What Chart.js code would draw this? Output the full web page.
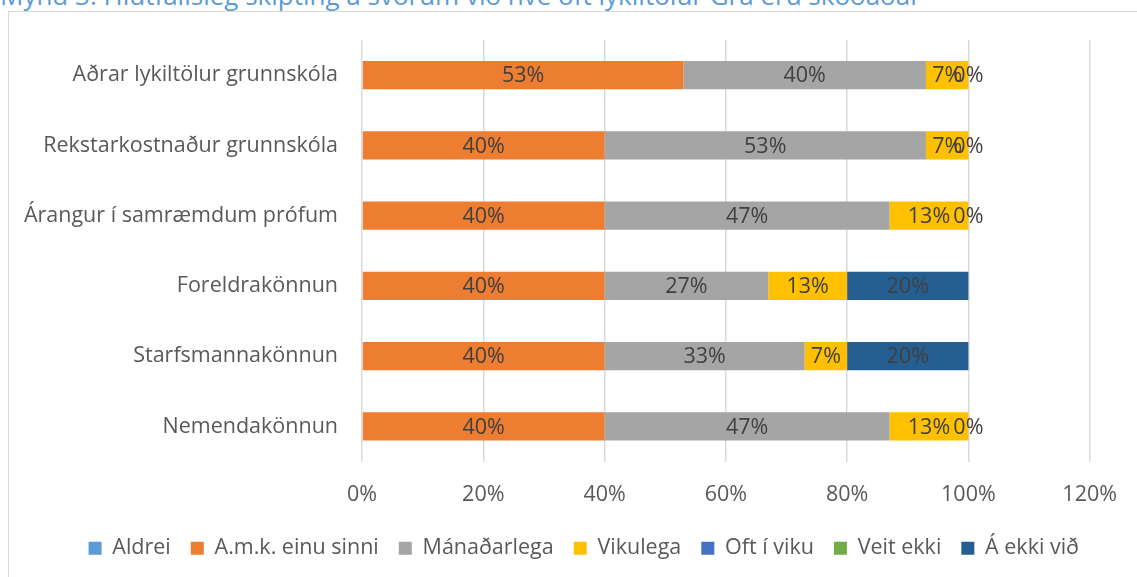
<!DOCTYPE html>
<html>
<head>
<meta charset="utf-8">
<script src="https://cdn.jsdelivr.net/npm/chart.js@4.4.1/dist/chart.umd.min.js"></script>
<style>
  html, body { margin: 0; padding: 0; background: #ffffff; overflow: hidden; }
  #wrap { position: relative; width: 1137px; height: 577px; overflow: hidden; }
  #frame { position: absolute; left: 8px; top: 11px; width: 1300px; height: 800px; border: 1px solid #d9d9d9; box-sizing: border-box; }
  #title { position: absolute; left: 0px; top: -18px; font-family: 'Open Sans', sans-serif; font-size: 26px; line-height: 26px; color: #5b9bd5; white-space: nowrap; }
  #c { position: absolute; left: 0; top: 0; }
</style>
</head>
<body>
<div id="wrap">
  <div id="frame"></div>
  <div id="title">Mynd 3. Hlutfallsleg skipting á svörum við hve oft lykiltölur Grá eru skoðaðar</div>
  <canvas id="c" width="1137" height="577"></canvas>
</div>
<script>
const categories = ['Aðrar lykiltölur grunnskóla', 'Rekstarkostnaður grunnskóla', 'Árangur í samræmdum prófum', 'Foreldrakönnun', 'Starfsmannakönnun', 'Nemendakönnun'];
const seriesNames = ['Aldrei', 'A.m.k. einu sinni', 'Mánaðarlega', 'Vikulega', 'Oft í viku', 'Veit ekki', 'Á ekki við'];
const aldrei      = [null, null, null, null, null, null];
const amkEinuSinni = [53, 40, 40, 40, 40, 40];
const manadarlega = [40, 53, 47, 27, 33, 47];
const vikulega    = [7, 7, 13, 13, 7, 13];
const oftIViku    = [null, null, null, null, null, null];
const veitEkki    = [null, null, null, null, null, null];
const aEkkiVid    = [0, 0, 0, 20, 20, 0];
const xTicks = [0, 20, 40, 60, 80, 100, 120];

const seriesValues = [aldrei, amkEinuSinni, manadarlega, vikulega, oftIViku, veitEkki, aEkkiVid];
const seriesColors = ['#5b9bd5', '#ed7d31', '#a5a5a5', '#ffc000', '#4472c4', '#70ad47', '#255e91'];

Chart.defaults.font.family = "'Open Sans', sans-serif";
Chart.defaults.font.size = 21.5;
Chart.defaults.color = '#595959';

const labelPlugin = {
  id: 'barLabels',
  afterDatasetsDraw(chart) {
    const ctx = chart.ctx;
    ctx.save();
    ctx.font = "21.5px 'Open Sans', sans-serif";
    ctx.fillStyle = '#404040';
    ctx.textAlign = 'center';
    ctx.textBaseline = 'middle';
    chart.data.datasets.forEach((ds, i) => {
      const meta = chart.getDatasetMeta(i);
      meta.data.forEach((el, j) => {
        const v = ds.data[j];
        if (v === null || v === undefined) return;
        const p = el.getProps(['x', 'y', 'base'], true);
        const cx = (p.x + p.base) / 2;
        ctx.fillText(v + '%', cx, p.y + 1);
      });
    });
    ctx.restore();
  }
};

new Chart(document.getElementById('c'), {
  type: 'bar',
  data: {
    labels: categories,
    datasets: seriesNames.map((n, i) => ({
      label: n,
      data: seriesValues[i],
      backgroundColor: seriesColors[i],
      borderWidth: 0,
      barPercentage: 0.4,
      categoryPercentage: 1.0
    }))
  },
  options: {
    indexAxis: 'y',
    responsive: false,
    animation: false,
    layout: { padding: { left: 0, right: 38, top: 40, bottom: 8 } },
    scales: {
      x: {
        stacked: true,
        min: 0,
        max: 120,
        afterBuildTicks: (s) => { s.ticks = xTicks.map(v => ({ value: v })); },
        afterFit: (s) => { s.height = 56; },
        grid: { color: '#d9d9d9', lineWidth: 1.5, drawTicks: false },
        border: { display: false },
        ticks: { padding: 20, color: '#595959', callback: (v) => v + '%', maxRotation: 0 }
      },
      y: {
        stacked: true,
        afterFit: (s) => { s.width = 362; },
        grid: { display: false, drawTicks: false },
        border: { display: false },
        ticks: { padding: 24, color: '#595959' }
      }
    },
    plugins: {
      legend: {
        position: 'bottom',
        align: 'end',
        labels: { boxWidth: 13, boxHeight: 13, padding: 20, color: '#595959', font: { size: 21.5 } }
      },
      tooltip: { enabled: false }
    }
  },
  plugins: [labelPlugin]
});
</script>
</body>
</html>
